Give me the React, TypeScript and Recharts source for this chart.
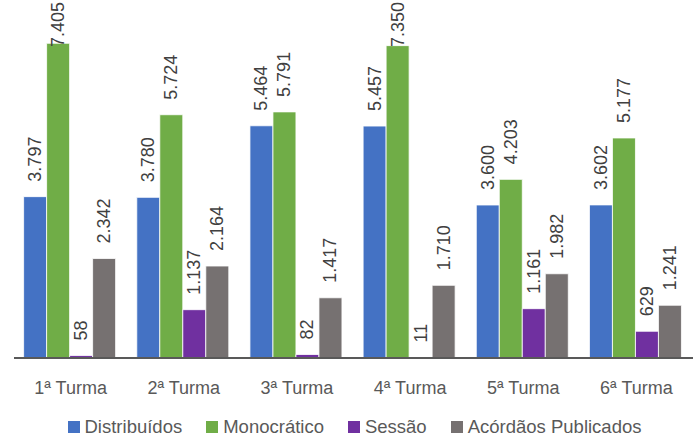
import { BarChart, Bar, XAxis, YAxis, Legend, LabelList } from 'recharts';

const turmas = ['1ª Turma', '2ª Turma', '3ª Turma', '4ª Turma', '5ª Turma', '6ª Turma'];
const distribuidos = [3797, 3780, 5464, 5457, 3600, 3602];
const monocratico = [7405, 5724, 5791, 7350, 4203, 5177];
const sessao = [58, 1137, 82, 11, 1161, 629];
const acordaos = [2342, 2164, 1417, 1710, 1982, 1241];

const series = [
  { key: 'distribuidos', name: 'Distribuídos', color: '#4472C4' },
  { key: 'monocratico', name: 'Monocrático', color: '#70AD47' },
  { key: 'sessao', name: 'Sessão', color: '#7030A0' },
  { key: 'acordaos', name: 'Acórdãos Publicados', color: '#767171' },
];

const data = turmas.map((t, i) => ({
  turma: t,
  distribuidos: distribuidos[i],
  monocratico: monocratico[i],
  sessao: sessao[i],
  acordaos: acordaos[i],
}));

const FONT = '"Liberation Sans", Arial, sans-serif';

// 7405 -> "7.405"
function fmt(v: number) {
  return String(v).replace(/\B(?=(\d{3})+(?!\d))/g, '.');
}

function RotLabel(props: any) {
  const { x, y, width, value } = props;
  const cx = x + width / 2;
  const text = fmt(value);
  // keep the label inside the picture when the bar is tall
  const len = text.length * 9.2;
  const by = Math.max(y - 15, len + 1);
  return (
    <text
      x={cx}
      y={by}
      transform={`rotate(-90 ${cx} ${by})`}
      textAnchor="start"
      dominantBaseline="central"
      fontSize={18}
      fontFamily={FONT}
      fill="#404040"
    >
      {text}
    </text>
  );
}

function Tick(props: any) {
  const { x, y, payload } = props;
  return (
    <text x={x} y={y} dy={36} textAnchor="middle" fontSize={18} fontFamily={FONT} fill="#595959">
      {payload.value}
    </text>
  );
}

function LegendBox() {
  return (
    <div
      style={{
        display: 'flex',
        justifyContent: 'center',
        alignItems: 'center',
        height: 36,
        paddingTop: 10,
        boxSizing: 'border-box',
        gap: 24,
        fontFamily: FONT,
        fontSize: 18.5,
        color: '#595959',
        paddingLeft: 2,
      }}
    >
      {series.map((s) => (
        <div key={s.key} style={{ display: 'flex', alignItems: 'center', gap: 5 }}>
          <span style={{ width: 12, height: 12, background: s.color, display: 'inline-block' }} />
          <span>{s.name}</span>
        </div>
      ))}
    </div>
  );
}

export default function App() {
  return (
    <div style={{ position: 'absolute', left: 0, top: 0, width: 699, height: 440, background: '#fff' }}>
      <BarChart
        width={699}
        height={440}
        data={data}
        margin={{ top: 18, right: 6, left: 14, bottom: 0 }}
        barCategoryGap="8.5%"
        barGap={0}
      >
        <XAxis
          dataKey="turma"
          height={46}
          tickLine={false}
          tickSize={0}
          tickMargin={0}
          axisLine={{ stroke: '#595959', strokeWidth: 2 }}
          tick={<Tick />}
          interval={0}
        />
        <YAxis hide domain={[0, 8000]} />
        <Legend verticalAlign="bottom" height={36} content={<LegendBox />} />
        {series.map((s) => (
          <Bar
            key={s.key}
            dataKey={s.key}
            name={s.name}
            fill={s.color}
            stroke="#ffffff"
            strokeWidth={0.8}
            isAnimationActive={false}
          >
            <LabelList dataKey={s.key} content={<RotLabel />} />
          </Bar>
        ))}
      </BarChart>
    </div>
  );
}
